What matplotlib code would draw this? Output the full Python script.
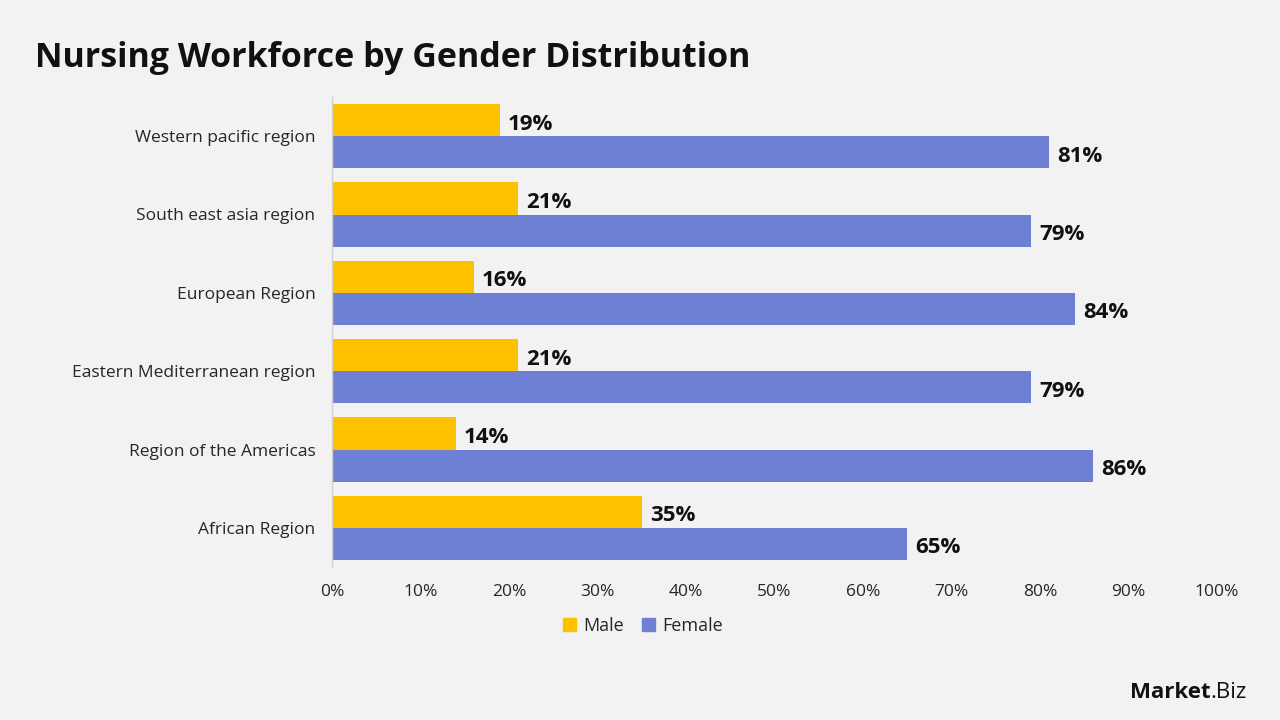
import matplotlib
matplotlib.use("Agg")
import matplotlib.pyplot as plt
import numpy as np
from matplotlib.patches import Patch

plt.rcParams['font.family'] = ['Open Sans', 'DejaVu Sans']

regions = ["Western pacific region", "South east asia region", "European Region",
           "Eastern Mediterranean region", "Region of the Americas", "African Region"]
male = [19, 21, 16, 21, 14, 35]
female = [81, 79, 84, 79, 86, 65]
xticks = [0, 10, 20, 30, 40, 50, 60, 70, 80, 90, 100]

bg = "#f2f2f2"
c_male = "#FFC000"
c_female = "#6E80D4"
txt = "#262626"

fig = plt.figure(figsize=(12.8, 7.2), dpi=100, facecolor=bg)
ax = fig.add_axes([332/1280, 1-567/720, (1217-332)/1280, 470/720])
ax.set_facecolor(bg)

n = len(regions)
pos = np.arange(n)[::-1]
h = 0.41
ax.barh(pos + h/2, male, height=h, color=c_male, label="Male")
ax.barh(pos - h/2, female, height=h, color=c_female, label="Female")

for p, m, f in zip(pos, male, female):
    ax.text(m + 0.9, p + h/2 - 0.05, f"{m}%", va="center", ha="left", fontsize=16,
            fontweight="bold", color="#111111")
    ax.text(f + 0.9, p - h/2 - 0.05, f"{f}%", va="center", ha="left", fontsize=16,
            fontweight="bold", color="#111111")

ax.set_xlim(0, 100)
ax.set_ylim(-0.5, n - 0.5)
ax.set_xticks(xticks)
ax.set_xticklabels([f"{t}%" for t in xticks], fontsize=12.5, color=txt)
ax.set_yticks(pos)
ax.set_yticklabels(regions, fontsize=12.5, color=txt)
ax.tick_params(axis="both", length=0, pad=12)
ax.tick_params(axis="x", pad=12)
for s in ["top", "right", "bottom"]:
    ax.spines[s].set_visible(False)
ax.spines["left"].set_color("#d0d0d0")
ax.spines["left"].set_linewidth(1)

handles = [Patch(color=c_male, label="Male"), Patch(color=c_female, label="Female")]
fig.legend(handles=handles, loc="center", bbox_to_anchor=(643/1280, 1-626/720), ncol=2,
           frameon=False, fontsize=13, handlelength=0.7, handleheight=0.7,
           handletextpad=0.4, columnspacing=1.0, labelcolor=txt)

fig.text(35/1280, 1-58/720, "Nursing Workforce by Gender Distribution", fontsize=24.5,
         fontweight="bold", color="#111111", va="center", ha="left")

t1 = fig.text(1130/1280, 1-693/720, "Market", fontsize=16, fontweight="bold", color="#111111",
              va="center", ha="left")
fig.canvas.draw()
bb = t1.get_window_extent()
fig.text(bb.x1/1280, 1-693/720, ".Biz", fontsize=16, color="#111111", va="center", ha="left")

fig.savefig("out.png", dpi=100, facecolor=bg)
